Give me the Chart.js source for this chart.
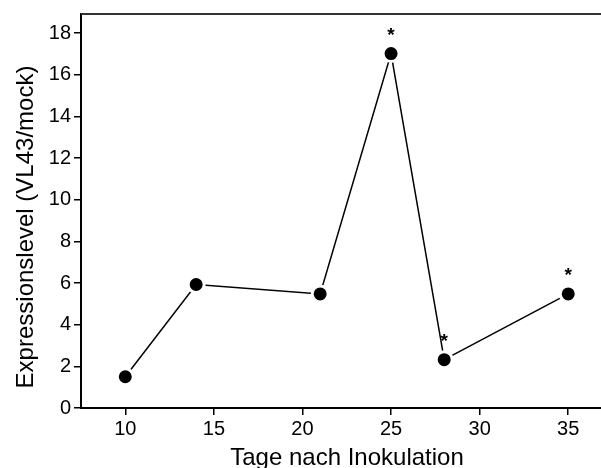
<!DOCTYPE html>
<html>
<head>
<meta charset="utf-8">
<script src="https://cdn.jsdelivr.net/npm/chart.js@4/dist/chart.umd.min.js"></script>
<style>
  html, body { margin: 0; padding: 0; background: #fff; }
  #wrap { width: 601px; height: 468px; }
</style>
</head>
<body>
<div id="wrap"><canvas id="c" width="601" height="468"></canvas></div>
<script>
// Days after inoculation and the measured expression ratio
const days = [10, 14, 21, 25, 28, 35];
const expression = [1.5, 5.93, 5.48, 17.02, 2.32, 5.48];
// Significant time points get an asterisk
const significant = [false, false, false, true, true, true];
const xTicks = [10, 15, 20, 25, 30, 35];
const yTicks = [0, 2, 4, 6, 8, 10, 12, 14, 16, 18];

const xTitle = 'Tage nach Inokulation';
const yTitle = 'Expressionslevel (VL43/mock)';
const FONT = '"Liberation Sans", Arial, sans-serif';

const decorations = {
  id: 'decorations',
  afterDatasetsDraw(chart) {
    const ctx = chart.ctx;
    const area = chart.chartArea;
    const meta = chart.getDatasetMeta(0);
    ctx.save();
    // top frame line
    ctx.strokeStyle = '#333';
    ctx.lineWidth = 2;
    ctx.beginPath();
    ctx.moveTo(area.left, area.top);
    ctx.lineTo(chart.width, area.top);
    ctx.stroke();
    // significance markers
    ctx.fillStyle = '#000';
    ctx.font = 'bold 19px ' + FONT;
    ctx.textAlign = 'center';
    ctx.textBaseline = 'alphabetic';
    meta.data.forEach((pt, i) => {
      if (significant[i]) ctx.fillText('*', pt.x, pt.y - 13);
    });
    // axis titles
    ctx.font = '24px ' + FONT;
    ctx.fillText(xTitle, 347, 465);
    ctx.translate(33, 227);
    ctx.rotate(-Math.PI / 2);
    ctx.fillText(yTitle, 0, 0);
    ctx.restore();
  }
};

new Chart(document.getElementById('c'), {
  type: 'line',
  data: {
    datasets: [{
      data: days.map((d, i) => ({ x: d, y: expression[i] })),
      borderColor: '#000',
      borderWidth: 1.5,
      pointRadius: 8,
      pointHoverRadius: 8,
      pointBackgroundColor: '#000',
      pointBorderColor: '#fff',
      pointBorderWidth: 3,
      tension: 0,
      clip: false
    }]
  },
  options: {
    responsive: false,
    animation: false,
    events: [],
    layout: { autoPadding: false, padding: { top: 14, right: 0, left: 0, bottom: 0 } },
    plugins: { legend: { display: false }, tooltip: { enabled: false } },
    scales: {
      x: {
        type: 'linear',
        min: 7.5,
        max: 36.85,
        afterBuildTicks(scale) { scale.ticks = xTicks.map(v => ({ value: v })); },
        afterFit(scale) { scale.height = 60; scale.paddingLeft = 0; scale.paddingRight = 0; },
        ticks: { color: '#000', font: { family: FONT, size: 20 }, padding: 2, autoSkip: false, maxRotation: 0 },
        grid: { drawOnChartArea: false, tickLength: 7, color: '#000', lineWidth: 1.5 },
        border: { color: '#000', width: 2 }
      },
      y: {
        type: 'linear',
        min: 0,
        max: 18.92,
        afterBuildTicks(scale) { scale.ticks = yTicks.map(v => ({ value: v })); },
        afterFit(scale) { scale.width = 81; scale.paddingTop = 0; scale.paddingBottom = 0; },
        ticks: { color: '#000', font: { family: FONT, size: 20 }, padding: 3, autoSkip: false },
        grid: { drawOnChartArea: false, tickLength: 7, color: '#000', lineWidth: 1.5 },
        border: { color: '#000', width: 2 }
      }
    }
  },
  plugins: [decorations]
});
</script>
</body>
</html>
